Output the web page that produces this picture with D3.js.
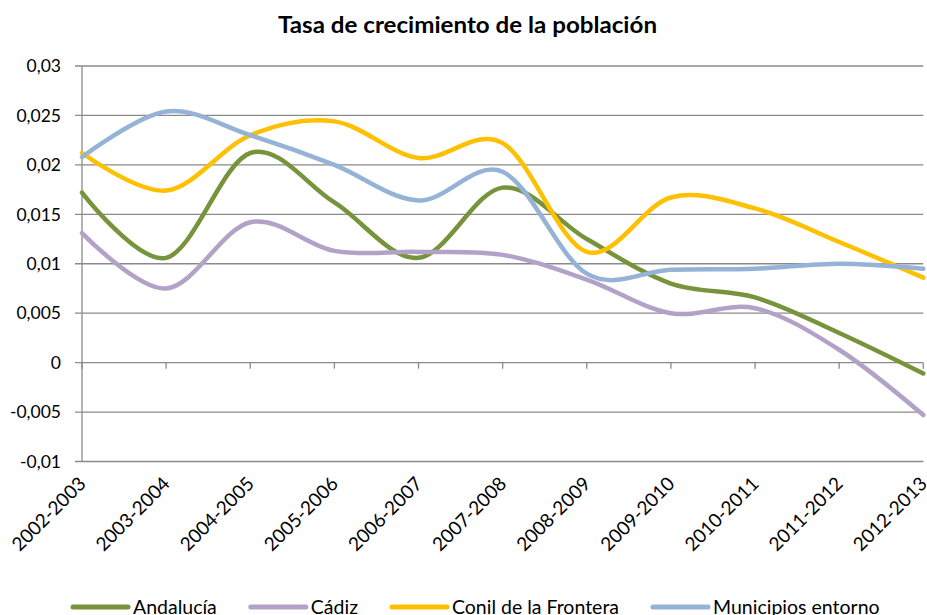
<!DOCTYPE html>
<html><head><meta charset="utf-8">
<script src="https://cdn.jsdelivr.net/npm/d3@7"></script>
<style>body{margin:0;background:#fff}svg{display:block}</style>
</head><body>
<script>
const categories = ["2002-2003","2003-2004","2004-2005","2005-2006","2006-2007","2007-2008","2008-2009","2009-2010","2010-2011","2011-2012","2012-2013"];
const andalucia = [0.0172,0.0106,0.0212,0.0162,0.0106,0.0177,0.0125,0.0080,0.0066,0.0030,-0.0011];
const cadiz     = [0.0131,0.0075,0.0142,0.0113,0.0112,0.0109,0.0084,0.0050,0.0055,0.0013,-0.0053];
const conil     = [0.0212,0.0174,0.0230,0.0244,0.0207,0.0222,0.0112,0.0167,0.0156,0.0122,0.0086];
const municipios= [0.0208,0.0254,0.0230,0.0200,0.0164,0.0193,0.0090,0.0094,0.0095,0.0100,0.0095];
const seriesNames = ["Andalucía","Cádiz","Conil de la Frontera","Municipios entorno"];
const seriesColors = ["#77933C","#B3A2C7","#FFC000","#95B3D7"];
const yTicks = [-0.01,-0.005,0,0.005,0.01,0.015,0.02,0.025,0.03];

const W=927,H=615;
const svg=d3.select("body").append("svg").attr("width",W).attr("height",H);
const font="Lato, 'Open Sans', sans-serif";
const x=d3.scalePoint().domain(categories).range([82,923.3]);
const y=d3.scaleLinear().domain([-0.01,0.03]).range([461.5,66]);
const grid="#8a8a8a";

// gridlines
svg.append("g").selectAll("line").data(yTicks).join("line")
  .attr("x1",75).attr("x2",923.3).attr("y1",d=>y(d)).attr("y2",d=>y(d))
  .attr("stroke",grid).attr("stroke-width",1.3);
// y axis line
svg.append("line").attr("x1",82).attr("x2",82).attr("y1",y(0.03)).attr("y2",y(-0.01)).attr("stroke",grid).attr("stroke-width",1.3);
// y labels
const fmt=d=>d===0?"0":String(d).replace(".",",");
svg.append("g").selectAll("text").data(yTicks).join("text")
  .attr("x",61).attr("y",d=>y(d)).attr("dy","0.36em").attr("text-anchor","end")
  .attr("font-family",font).attr("font-size",17.5).attr("fill","#000").text(fmt);
// x ticks on zero line
svg.append("g").selectAll("line").data(categories).join("line")
  .attr("x1",d=>x(d)).attr("x2",d=>x(d)).attr("y1",y(0)).attr("y2",y(0)+6)
  .attr("stroke",grid).attr("stroke-width",1.3);
// x labels
svg.append("g").selectAll("text").data(categories).join("text")
  .attr("transform",d=>`translate(${x(d)+5},${485}) rotate(-45)`)
  .attr("text-anchor","end").attr("font-family",font).attr("font-size",19).attr("fill","#000").text(d=>d);

// lines
const data=[andalucia,cadiz,conil,municipios];
const line=d3.line().x((d,i)=>x(categories[i])).y(d=>y(d)).curve(d3.curveCardinal.tension(0));
svg.append("g").selectAll("path").data(data).join("path")
  .attr("d",line).attr("fill","none").attr("stroke",(d,i)=>seriesColors[i])
  .attr("stroke-width",4.5).attr("stroke-linecap","round").attr("stroke-linejoin","round");

// title
svg.append("text").attr("x",467.5).attr("y",33).attr("text-anchor","middle")
  .attr("font-family",font).attr("font-weight","bold").attr("font-size",22).attr("fill","#000")
  .attr("textLength",379).attr("lengthAdjust","spacingAndGlyphs")
  .text("Tasa de crecimiento de la población");

// legend
let lx=73;
seriesNames.forEach((name,i)=>{
  const g=svg.append("g").attr("transform",`translate(${lx},607)`);
  g.append("line").attr("x1",0).attr("x2",55).attr("y1",0).attr("y2",0)
    .attr("stroke",seriesColors[i]).attr("stroke-width",5).attr("stroke-linecap","round");
  const t=g.append("text").attr("x",60).attr("y",0).attr("dy","0.36em")
    .attr("font-family",font).attr("font-size",19.5).attr("fill","#000").text(name);
  lx+=60+t.node().getComputedTextLength()+34;
});
</script>
</body></html>
